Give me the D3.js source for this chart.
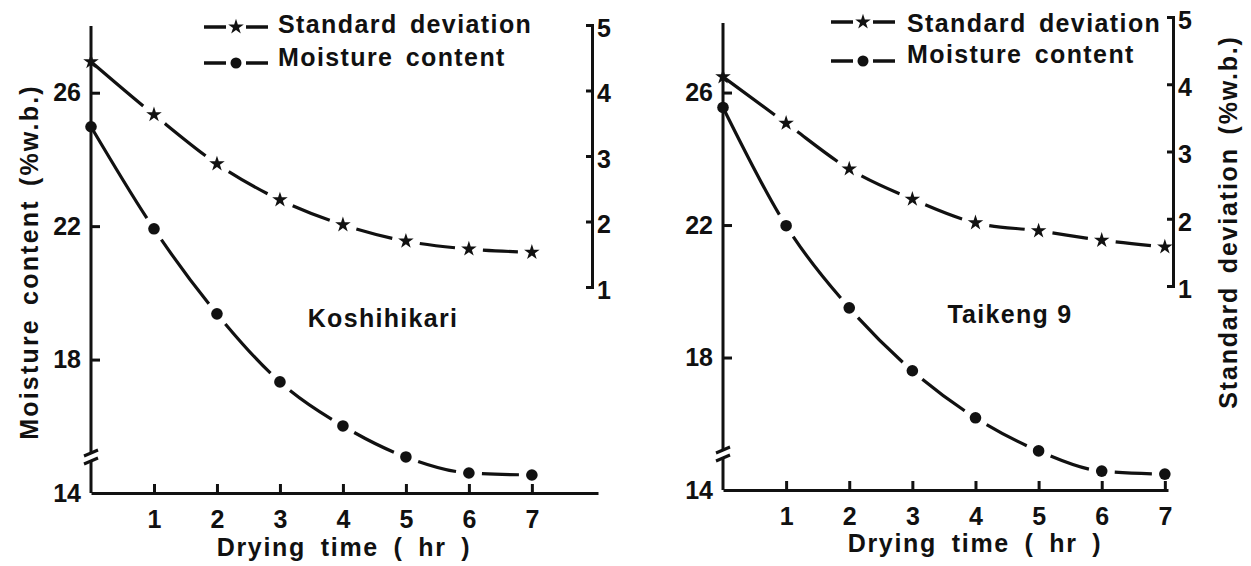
<!DOCTYPE html>
<html>
<head>
<meta charset="utf-8">
<script src="https://cdn.jsdelivr.net/npm/d3@7"></script>
<style>
  body { margin: 0; background: #fff; }
  svg text { font-family: 'Liberation Sans', Arial, sans-serif; font-weight: bold; fill: #111; }
  .domain, .tick line { stroke: #111; stroke-width: 3; }
</style>
</head>
<body>
<script>
// drying time (hr) and axis ticks
const hours = [0, 1, 2, 3, 4, 5, 6, 7];
const xTicks = [1, 2, 3, 4, 5, 6, 7];
const moistTicks = [14, 18, 22, 26];
const sdTicks = [1, 2, 3, 4, 5];

// Koshihikari
const koshiMoisture = [24.98, 21.92, 19.37, 17.33, 16.01, 15.08, 14.60, 14.54];
const koshiSD = [4.44, 3.63, 2.88, 2.33, 1.95, 1.70, 1.58, 1.53];

// Taikeng 9
const taikengMoisture = [25.55, 21.98, 19.50, 17.60, 16.18, 15.18, 14.57, 14.48];
const taikengSD = [4.11, 3.42, 2.74, 2.29, 1.94, 1.82, 1.68, 1.58];

const legendLabels = ['Standard deviation', 'Moisture content'];
const xTitle = 'Drying time ( hr )';
const leftTitle = 'Moisture content (%w.b.)';
const rightTitle = 'Standard deviation (%w.b.)';

const w = 1251, h = 566;
const ink = '#111';
const fmt = d3.format('d');

const svg = d3.select('body').append('svg')
  .attr('width', w)
  .attr('height', h);

const panels = [
  { name: 'Koshihikari', moisture: koshiMoisture, sd: koshiSD,
    x0: 91, x1: 598, xMax: 8.05, yTop: 26, yBase: 493, yMax: 28,
    sdX: 592, sdTop: 25, sdBottom: 287,
    legX: 204, legText: 278, legY: [27, 63], legBase: [33, 66],
    nameX: 383, nameY: 327, xTitleX: 344, xTitleY: 556 },
  { name: 'Taikeng 9', moisture: taikengMoisture, sd: taikengSD,
    x0: 723, x1: 1168, xMax: 7.05, yTop: 23, yBase: 490, yMax: 28.1,
    sdX: 1173, sdTop: 17, sdBottom: 286,
    legX: 831, legText: 907, legY: [22, 61], legBase: [32, 63],
    nameX: 1010, nameY: 323, xTitleX: 975, xTitleY: 552 }
];

const star = d3.symbol().type(d3.symbolStar).size(75);

// dashed curve with gaps around every marker
const dashedCurve = (g, pts, gap) => {
  const path = g.append('path')
    .datum(pts)
    .attr('d', d3.line().curve(d3.curveMonotoneX))
    .attr('fill', 'none')
    .attr('stroke', ink)
    .attr('stroke-width', 3.2);
  const node = path.node();
  const total = node.getTotalLength();
  const at = pts.map(([px]) => {
    let lo = 0, hi = total;
    for (let k = 0; k < 40; k++) {
      const mid = (lo + hi) / 2;
      if (node.getPointAtLength(mid).x < px) lo = mid; else hi = mid;
    }
    return lo;
  });
  let dash = [];
  let cursor = 0;
  for (let i = 0; i < pts.length - 1; i++) {
    const s = i === 0 ? 0 : at[i] + gap;
    const e = at[i + 1] - gap;
    if (i === 0) dash.push(e);
    else dash.push(s - cursor, e - s);
    cursor = e;
  }
  dash.push(total);
  path.attr('stroke-dasharray', dash.map((d) => d.toFixed(2)).join(','));
};

panels.forEach((p) => {
  const g = svg.append('g');
  const x = d3.scaleLinear().domain([0, p.xMax]).range([p.x0, p.x1]);
  const y = d3.scaleLinear().domain([14, p.yMax]).range([p.yBase, p.yTop]);
  const ySd = d3.scaleLinear().domain([1, 5]).range([p.sdBottom, p.sdTop]);

  //x axis, ticks pointing up
  g.append('g')
    .attr('transform', `translate(0,${p.yBase})`)
    .call(d3.axisBottom(x).tickValues(xTicks).tickFormat(fmt)
      .tickSizeInner(-9).tickSizeOuter(0).tickPadding(17))
    .attr('font-size', 25);

  //left axis, line drawn by hand because of the break
  g.append('g')
    .attr('transform', `translate(${p.x0},0)`)
    .call(d3.axisLeft(y).tickValues(moistTicks).tickFormat(fmt)
      .tickSizeInner(-9).tickSizeOuter(0).tickPadding(10))
    .attr('font-size', 25)
    .call((a) => a.select('.domain').remove())
    .call((a) => a.selectAll('.tick').filter((d) => d === 14).select('line').remove());

  const brk = p.yBase - 36;
  g.append('line')
    .attr('x1', p.x0).attr('x2', p.x0)
    .attr('y1', p.yTop).attr('y2', brk - 4)
    .attr('stroke', ink).attr('stroke-width', 3);
  g.append('line')
    .attr('x1', p.x0).attr('x2', p.x0)
    .attr('y1', brk + 4).attr('y2', p.yBase)
    .attr('stroke', ink).attr('stroke-width', 3);
  [brk - 4, brk + 4].forEach((by) => {
    g.append('line')
      .attr('x1', p.x0 - 7).attr('y1', by + 3)
      .attr('x2', p.x0 + 7).attr('y2', by - 3)
      .attr('stroke', ink).attr('stroke-width', 3);
  });

  //right axis for standard deviation, ticks pointing left
  g.append('g')
    .attr('transform', `translate(${p.sdX},0)`)
    .call(d3.axisRight(ySd).tickValues(sdTicks).tickFormat(fmt)
      .tickSizeInner(-6).tickSizeOuter(-6).tickPadding(5))
    .attr('font-size', 25)
    .selectAll('text').attr('dy', '0.45em');

  //curves
  const sdPts = hours.map((hr, i) => [x(hr), ySd(p.sd[i])]);
  const mcPts = hours.map((hr, i) => [x(hr), y(p.moisture[i])]);
  dashedCurve(g, sdPts, 14);
  dashedCurve(g, mcPts, 13);

  g.selectAll('.star')
    .data(sdPts)
    .enter()
    .append('path')
    .attr('d', star)
    .attr('transform', (d) => `translate(${d[0]},${d[1]})`)
    .attr('fill', ink);

  g.selectAll('.dot')
    .data(mcPts)
    .enter()
    .append('circle')
    .attr('cx', (d) => d[0])
    .attr('cy', (d) => d[1])
    .attr('r', 5.8)
    .attr('fill', ink);

  //legend
  legendLabels.forEach((label, i) => {
    const ly = p.legY[i];
    const mid = p.legX + 32;
    g.append('line').attr('x1', p.legX).attr('x2', mid - 10).attr('y1', ly).attr('y2', ly)
      .attr('stroke', ink).attr('stroke-width', 3.5);
    g.append('line').attr('x1', mid + 10).attr('x2', p.legX + 64).attr('y1', ly).attr('y2', ly)
      .attr('stroke', ink).attr('stroke-width', 3.5);
    if (i === 0) {
      g.append('path').attr('d', star).attr('transform', `translate(${mid},${ly})`).attr('fill', ink);
    } else {
      g.append('circle').attr('cx', mid).attr('cy', ly).attr('r', 5.5).attr('fill', ink);
    }
    g.append('text')
      .attr('x', p.legText)
      .attr('y', p.legBase[i])
      .style('font-size', '25px')
      .style('letter-spacing', '1.4px')
      .style('word-spacing', '4px')
      .text(label);
  });

  //variety name
  g.append('text')
    .attr('x', p.nameX)
    .attr('y', p.nameY)
    .attr('text-anchor', 'middle')
    .style('font-size', '25px')
    .style('letter-spacing', '1.3px')
    .text(p.name);

  //x axis title
  g.append('text')
    .attr('x', p.xTitleX)
    .attr('y', p.xTitleY)
    .attr('text-anchor', 'middle')
    .style('font-size', '25px')
    .style('letter-spacing', '1.7px')
    .style('word-spacing', '6px')
    .text(xTitle);
});

//rotated axis titles
svg.append('text')
  .attr('transform', 'translate(38,262) rotate(-90)')
  .attr('text-anchor', 'middle')
  .style('font-size', '25px')
  .style('letter-spacing', '2.2px')
  .style('word-spacing', '4px')
  .text(leftTitle);

svg.append('text')
  .attr('transform', 'translate(1237,222) rotate(-90)')
  .attr('text-anchor', 'middle')
  .style('font-size', '25px')
  .style('letter-spacing', '1.8px')
  .style('word-spacing', '4px')
  .text(rightTitle);
</script>
</body>
</html>
